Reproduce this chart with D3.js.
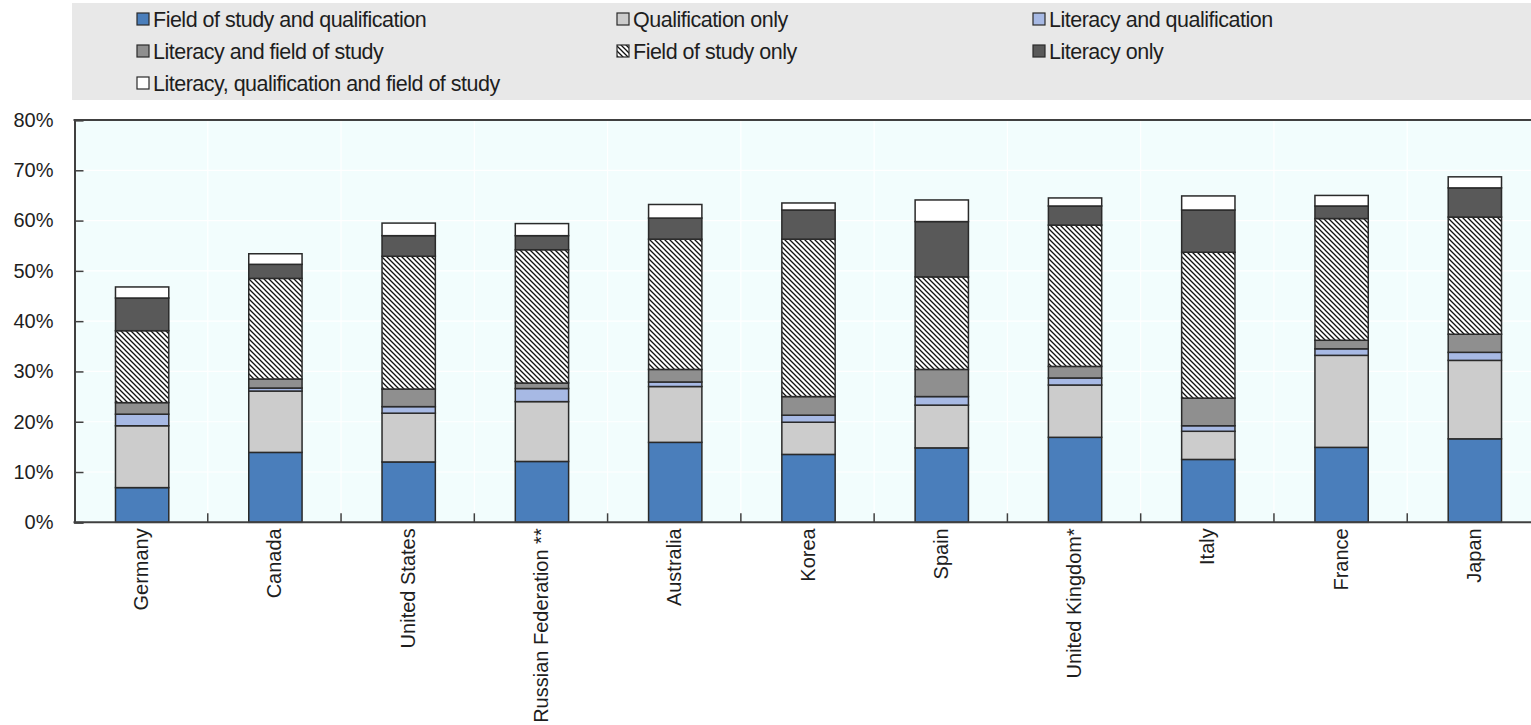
<!DOCTYPE html>
<html>
<head>
<meta charset="utf-8">
<script src="https://cdn.jsdelivr.net/npm/d3@7"></script>
<style>
  html, body { margin: 0; padding: 0; background: #ffffff; }
  svg { display: block; font-family: "Liberation Sans", Arial, sans-serif; }
</style>
</head>
<body>
<svg id="chart" width="1531" height="725"></svg>
<script>
// ---- data ----
const countries = ["Germany", "Canada", "United States", "Russian Federation **", "Australia", "Korea", "Spain", "United Kingdom*", "Italy", "France", "Japan"];
const seriesNames = ["Field of study and qualification", "Qualification only", "Literacy and qualification", "Literacy and field of study", "Field of study only", "Literacy only", "Literacy, qualification and field of study"];
const fieldAndQual   = [6.9, 13.9, 12.0, 12.1, 15.9, 13.5, 14.8, 16.9, 12.5, 14.9, 16.6];
const qualOnly       = [12.3, 12.2, 9.7, 11.9, 11.1, 6.4, 8.5, 10.4, 5.6, 18.3, 15.6];
const litAndQual     = [2.3, 0.6, 1.3, 2.6, 0.9, 1.4, 1.7, 1.4, 1.1, 1.3, 1.6];
const litAndField    = [2.3, 1.8, 3.5, 1.1, 2.5, 3.7, 5.4, 2.3, 5.5, 1.7, 3.6];
const fieldOnly      = [14.3, 20.0, 26.4, 26.5, 25.9, 31.3, 18.4, 28.1, 29.0, 24.2, 23.3];
const litOnly        = [6.5, 2.8, 4.1, 2.8, 4.2, 5.8, 11.0, 3.8, 8.4, 2.5, 5.8];
const litQualField   = [2.2, 2.1, 2.5, 2.4, 2.7, 1.4, 4.3, 1.6, 2.8, 2.1, 2.2];
const yTicks = [0, 10, 20, 30, 40, 50, 60, 70, 80];

const seriesValues = [fieldAndQual, qualOnly, litAndQual, litAndField, fieldOnly, litOnly, litQualField];
const seriesFills = ["#4a7ebb", "#cccccc", "#a7b9e4", "#8f8f8f", "url(#hatch)", "#595959", "#ffffff"];

// table for the stack
const table = countries.map((c, i) => {
  const row = { country: c };
  seriesNames.forEach((s, k) => row[s] = seriesValues[k][i]);
  return row;
});

const svg = d3.select("#chart");
const defs = svg.append("defs");
const pat = defs.append("pattern")
  .attr("id", "hatch").attr("patternUnits", "userSpaceOnUse")
  .attr("width", 5).attr("height", 5);
pat.append("rect").attr("width", 5).attr("height", 5).attr("fill", "#ffffff");
pat.append("path").attr("d", "M-1,-1 L6,6 M-1,4 L1,6 M4,-1 L6,1")
  .attr("stroke", "#111").attr("stroke-width", 1.3);

const plot = { left: 74.5, right: 1540.5, top: 120, bottom: 522.3 };

const x = d3.scaleBand().domain(countries).range([plot.left, plot.right]).padding(0);
const y = d3.scaleLinear().domain([0, 80]).range([plot.bottom, plot.top]);

// legend background
svg.append("rect").attr("x", 72).attr("y", 3).attr("width", 1531 - 72).attr("height", 97)
  .attr("fill", "#e8e8e8");

// plot background
svg.append("rect").attr("x", plot.left).attr("y", plot.top)
  .attr("width", plot.right - plot.left).attr("height", plot.bottom - plot.top)
  .attr("fill", "#f2fdfd");

// gridlines
svg.append("g").selectAll("line.h").data(yTicks.slice(1, -1)).join("line")
  .attr("x1", plot.left).attr("x2", plot.right)
  .attr("y1", d => y(d)).attr("y2", d => y(d))
  .attr("stroke", "#ffffff").attr("stroke-width", 1.2);
svg.append("g").selectAll("line.v").data(countries.slice(1)).join("line")
  .attr("x1", d => x(d)).attr("x2", d => x(d))
  .attr("y1", plot.top).attr("y2", plot.bottom)
  .attr("stroke", "#ffffff").attr("stroke-width", 1.2);

// stacked bars
const stack = d3.stack().keys(seriesNames);
const stacked = stack(table);
const barW = x.bandwidth() * 0.4;
svg.append("g").selectAll("g").data(stacked).join("g")
  .attr("fill", (d, i) => seriesFills[i])
  .selectAll("rect").data(d => d).join("rect")
  .attr("x", d => x(d.data.country) + (x.bandwidth() - barW) / 2 + 1)
  .attr("width", barW)
  .attr("y", d => y(d[1]))
  .attr("height", d => y(d[0]) - y(d[1]))
  .attr("stroke", "#2a2a2a").attr("stroke-width", 1.5);

// axes
const yAxis = d3.axisLeft(y).tickValues(yTicks).tickSize(-9).tickPadding(21)
  .tickFormat(d => d + "%");
const gy = svg.append("g").attr("transform", `translate(${plot.left},0)`).call(yAxis);
gy.select(".domain").attr("stroke", "#404040").attr("stroke-width", 2);
gy.selectAll(".tick line").attr("stroke", "#404040").attr("stroke-width", 1.5);
gy.selectAll(".tick text").attr("font-size", 20).attr("fill", "#1e1e1e")
  .attr("font-family", "'Liberation Sans', Arial, sans-serif");

// top border
svg.append("line").attr("x1", plot.left - 1).attr("x2", plot.right)
  .attr("y1", plot.top).attr("y2", plot.top)
  .attr("stroke", "#404040").attr("stroke-width", 2);

// x axis baseline + boundary ticks
svg.append("line").attr("x1", plot.left - 1).attr("x2", plot.right)
  .attr("y1", plot.bottom).attr("y2", plot.bottom)
  .attr("stroke", "#404040").attr("stroke-width", 2);
svg.append("g").selectAll("line").data(countries.slice(1)).join("line")
  .attr("x1", d => x(d)).attr("x2", d => x(d))
  .attr("y1", plot.bottom).attr("y2", plot.bottom - 9)
  .attr("stroke", "#404040").attr("stroke-width", 1.5);

// x labels, rotated
svg.append("g").selectAll("text").data(countries).join("text")
  .attr("transform", d => `translate(${x(d) + x.bandwidth() / 2 + 7},${plot.bottom + 6}) rotate(-90)`)
  .attr("text-anchor", "end")
  .attr("font-size", 20).attr("fill", "#1e1e1e")
  .text(d => d);

// legend
const legCols = [137, 617, 1033];
const legRows = [19, 51, 83];
const leg = svg.append("g").selectAll("g").data(seriesNames).join("g")
  .attr("transform", (d, i) => `translate(${legCols[i % 3]},${legRows[Math.floor(i / 3)]})`);
leg.append("rect").attr("x", 0).attr("y", -6).attr("width", 12).attr("height", 12)
  .attr("fill", (d, i) => seriesFills[i]).attr("stroke", "#2a2a2a").attr("stroke-width", 1.2);
leg.append("text").attr("x", 16).attr("y", 0).attr("dy", "0.35em")
  .attr("font-size", 21.5).attr("fill", "#1e1e1e")
  .style("letter-spacing", "-0.5px")
  .text(d => d);
</script>
</body>
</html>
